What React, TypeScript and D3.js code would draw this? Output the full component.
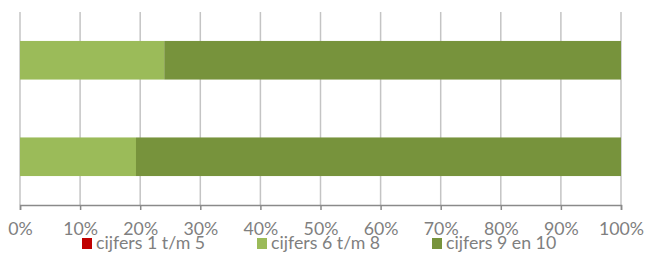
import React, { useRef, useEffect } from "react";
import * as d3 from "d3";

// two bars, top to bottom (no category labels shown)
const categories = ["a", "b"];
const series = ["cijfers 1 t/m 5", "cijfers 6 t/m 8", "cijfers 9 en 10"];
const low = [0, 0];
const mid = [24.0, 19.3];
const high = [76.0, 80.7];
const tickValues = [0, 10, 20, 30, 40, 50, 60, 70, 80, 90, 100];
const colors = ["#C00000", "#9BBB59", "#77933C"];

function App() {
    const svgRef = useRef(null);

    useEffect(() => {
        const width = 646, height = 253;
        const left = 20, right = 621, top = 12, bottom = 205;

        const svg = d3.select(svgRef.current);
        svg.selectAll("*").remove();

        const rows = categories.map((c, i) => ({
            cat: c,
            [series[0]]: low[i],
            [series[1]]: mid[i],
            [series[2]]: high[i]
        }));

        const x = d3.scaleLinear().domain([0, 100]).range([left, right]);
        const y = d3.scaleBand().domain(categories).range([top, bottom])
            .paddingInner(0.6).paddingOuter(0.3);

        // gridlines
        svg.append("g")
            .selectAll("line")
            .data(tickValues)
            .enter()
            .append("line")
            .attr("x1", d => x(d)).attr("x2", d => x(d))
            .attr("y1", top).attr("y2", bottom)
            .attr("stroke", "#c4c4c4")
            .attr("stroke-width", 1.5);

        const stacked = d3.stack().keys(series)(rows as any);

        svg.append("g")
            .selectAll("g")
            .data(stacked)
            .enter()
            .append("g")
            .attr("fill", (d, i) => colors[i])
            .selectAll("rect")
            .data(d => d)
            .enter()
            .append("rect")
            .attr("x", d => x(d[0]))
            .attr("width", d => x(d[1]) - x(d[0]))
            .attr("y", d => y(d.data.cat))
            .attr("height", y.bandwidth());

        // axis
        const axis = svg.append("g")
            .attr("transform", `translate(0, ${bottom})`)
            .call(d3.axisBottom(x).tickValues(tickValues).tickSize(5).tickPadding(12)
                .tickFormat(d => d + "%"));
        axis.select(".domain").attr("stroke", "#8a8a8a").attr("stroke-width", 1.5);
        axis.selectAll(".tick line").attr("stroke", "#8a8a8a").attr("stroke-width", 1.5);
        axis.selectAll(".tick text")
            .attr("fill", "#7f7f7f")
            .style("font-family", "Lato")
            .style("font-size", "17.75px");

        // legend
        const legendX = [82, 257, 432];
        const legend = svg.append("g")
            .selectAll("g")
            .data(series)
            .enter()
            .append("g")
            .attr("transform", (d, i) => `translate(${legendX[i]}, 238)`);
        legend.append("rect")
            .attr("width", 10).attr("height", 11)
            .attr("fill", (d, i) => colors[i]);
        legend.append("text")
            .attr("x", 14).attr("y", 11)
            .text(d => d)
            .attr("fill", "#7f7f7f")
            .style("font-family", "Lato")
            .style("font-size", "17.75px");

        svg.attr("width", width).attr("height", height);
    }, []);

    return (
        <svg ref={svgRef} style={{ position: "absolute", left: 0, top: 0 }}></svg>
    );
}

export default App;
